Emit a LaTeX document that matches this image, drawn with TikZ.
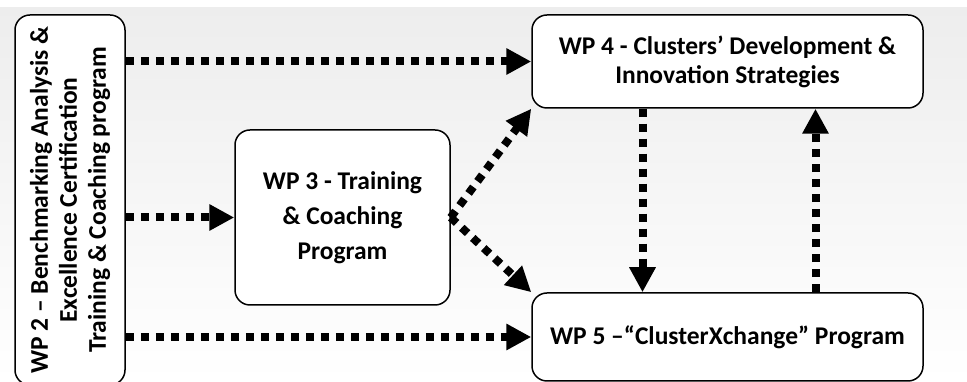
\documentclass[tikz,border=0pt]{standalone}
\usepackage{fontspec}
\setmainfont{Carlito}
\usetikzlibrary{arrows.meta,positioning}

\begin{document}
\begin{tikzpicture}
  [x=1pt,y=1pt,
   every node/.style={rectangle, rounded corners=15pt, draw=black, line width=1.5pt, fill=white, align=center, font=\fontsize{25.5}{29}\selectfont\bfseries},
   flow/.style={line width=8pt, dash pattern=on 8pt off 7pt, -{Triangle[length=25pt,width=25pt]}}]
  \useasboundingbox (0,0) rectangle (967,382);
  \shade [top color=black!7, bottom color=white] (0,0) rectangle (967,374);

  \node [rotate=90, minimum width=370pt, minimum height=110pt] (WP2) at (70,182) {WP 2 – Benchmarking Analysis \&\\ Excellence Certification\\ Training \& Coaching program};
  \node [minimum width=215pt, minimum height=175pt, font=\fontsize{25.5}{35}\selectfont\bfseries] (WP3) at (342.5,164.5) {WP 3 - Training\\ \& Coaching\\ Program};
  \node [minimum width=391pt, minimum height=93pt] (WP4) at (727.5,320.5) {WP 4 - Clusters’ Development \&\\ Innovation Strategies};
  \node [minimum width=391pt, minimum height=88pt] (WP5) at (727.5,45) {WP 5 –“ClusterXchange” Program};

  \path [flow]
  (WP2.south |- WP4) edge (WP4)
  (WP2.south |- WP3) edge (WP3)
  (WP2.south |- WP5) edge (WP5)

  (WP3.east) edge (WP4.south west)
  (WP3.east) edge (WP5.north west)

  ([xshift=-85pt]WP4.south) edge ([xshift=-85pt]WP5.north)
  ([xshift=88pt]WP5.north) edge ([xshift=88pt]WP4.south);

\end{tikzpicture}
\end{document}
